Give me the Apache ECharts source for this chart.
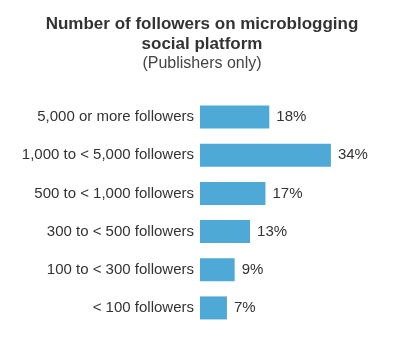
<!DOCTYPE html>
<html><head><meta charset="utf-8">
<script src="https://cdn.jsdelivr.net/npm/echarts@6/dist/echarts.min.js"></script>
<style>html,body{margin:0;padding:0;background:#fff}#c{width:412px;height:337px}</style>
</head><body><div id="c"></div>
<script>
const categories = ["5,000 or more followers","1,000 to < 5,000 followers","500 to < 1,000 followers","300 to < 500 followers","100 to < 300 followers","< 100 followers"];
const values = [18,34,17,13,9,7];
const titleText = "Number of followers on microblogging\nsocial platform";
const subtitleText = "(Publishers only)";

const chart = echarts.init(document.getElementById('c'));
chart.setOption({
  animation:false,
  title:{
    text:titleText, subtext:subtitleText, left:197, textAlign:'center', top:9, itemGap:1,
    textStyle:{fontFamily:'Liberation Sans, Arial', fontSize:17, fontWeight:'bold', color:'#333', lineHeight:20},
    subtextStyle:{fontFamily:'Liberation Sans, Arial', fontSize:16, color:'#444', lineHeight:18}
  },
  grid:{left:200, top:98, bottom:10, width:192.5},
  xAxis:{type:'value', min:0, max:50, show:false},
  yAxis:{type:'category', data:categories, inverse:true,
    axisLine:{show:false}, axisTick:{show:false}, splitLine:{show:false},
    axisLabel:{fontFamily:'Liberation Sans, Arial', fontSize:15, color:'#333', margin:6}},
  series:[{type:'bar', data:values, barWidth:23,
    itemStyle:{color:'#4FA9D6'},
    label:{show:true, position:'right', distance:7, formatter:'{c}%', fontFamily:'Liberation Sans, Arial', fontSize:15, color:'#333'}}]
});
</script></body></html>
